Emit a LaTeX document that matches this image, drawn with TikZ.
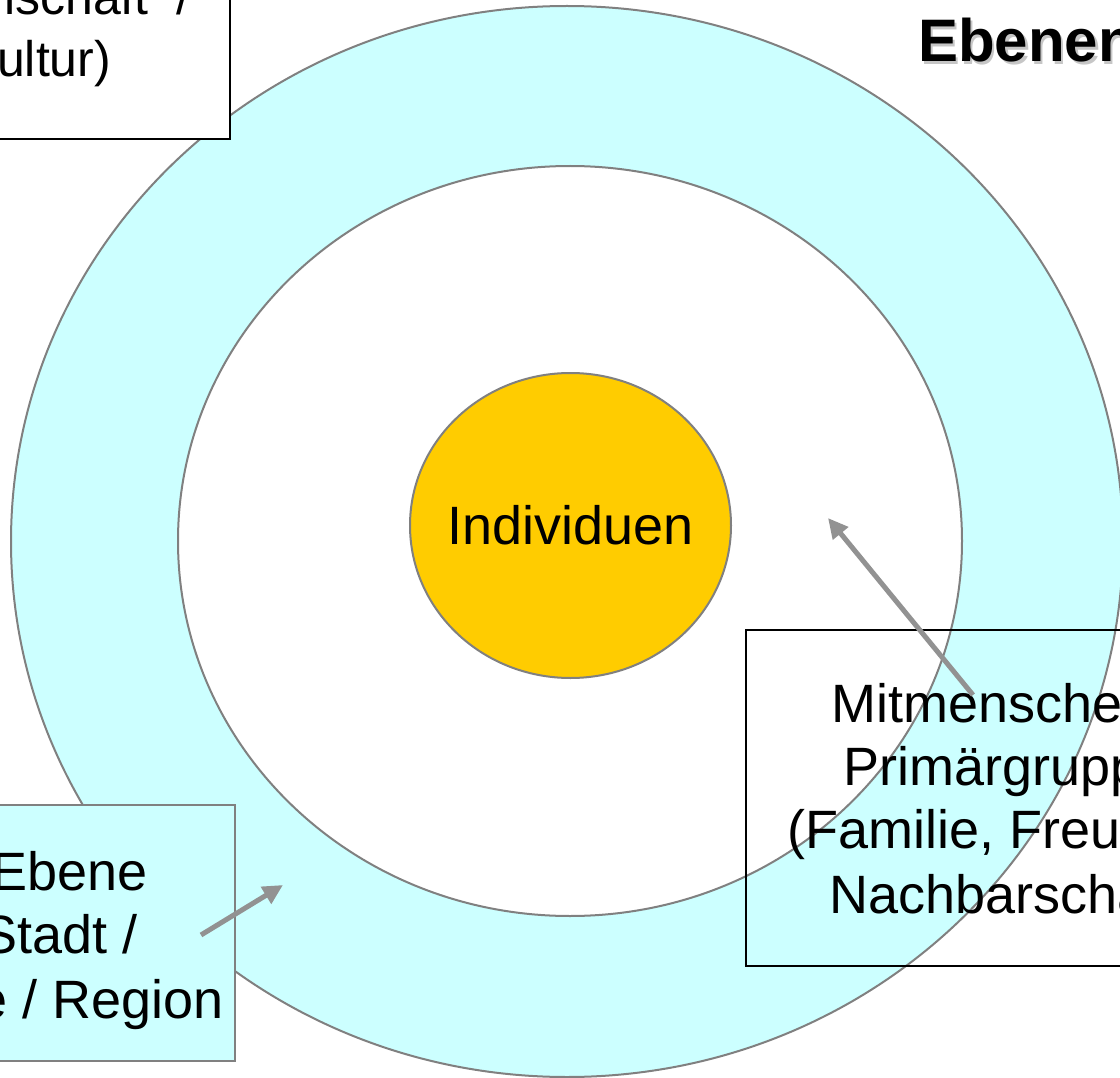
\documentclass[tikz,border=0pt]{standalone}
\usepackage{fontspec}
\setmainfont{Liberation Sans}
\usetikzlibrary{arrows.meta,shapes.geometric}

\definecolor{ringcyan}{HTML}{CCFFFF}
\definecolor{coregold}{HTML}{FFCC00}
\definecolor{ringline}{HTML}{808080}
\definecolor{pointergray}{HTML}{929292}

\tikzset{
  ring/.style={ellipse, draw=ringline, line width=2pt, inner sep=0pt},
  levelbox/.style={rectangle, line width=2pt, inner sep=0pt},
  linetext/.style={inner sep=0pt, anchor=base west, font=\fontsize{54}{64}\selectfont},
  pointer/.style={draw=pointergray, line width=5pt, -{Triangle[length=20pt,width=19pt]}},
}

\begin{document}
\begin{tikzpicture}[x=1pt,y=-1pt]
  \useasboundingbox (0,0) rectangle (1120,1078);
  \clip (0,0) rectangle (1120,1078);

  \node[ring, fill=ringcyan, minimum width=1112pt, minimum height=1071pt] (outer) at (567,541.5) {};
  \node[ring, fill=white, minimum width=784pt, minimum height=750pt] (inner) at (570,541) {};
  \node[ring, fill=coregold, minimum width=321pt, minimum height=305pt] (core) at (570.5,525.5) {};
  \node[inner sep=0pt, font=\fontsize{54}{64}\selectfont] (coretext) at (core.center) {Individuen};

  \node[anchor=base west, inner sep=0pt, text=gray!45,
        font=\fontsize{60}{72}\selectfont\bfseries] (titleshadow) at (920.5,64.5) {Ebenen};
  \node[anchor=base west, inner sep=0pt,
        font=\fontsize{60}{72}\selectfont\bfseries] (title) at (918,62) {Ebenen};

  \node[levelbox, draw=black, fill=white, minimum width=530pt, minimum height=239pt] (makro) at (-35,19.5) {};
  \node[levelbox, draw=ringline, fill=ringcyan, minimum width=485pt, minimum height=256pt] (meso) at (-7.5,933) {};
  \node[levelbox, draw=black, minimum width=514pt, minimum height=336pt] (mikro) at (1003,798) {};

  \foreach \x/\y/\t [count=\i] in {4/15/{lschaft\ \ /}, -3/77/{ultur)}}
    \node[linetext, font=\fontsize{50}{62}\selectfont] (makro\i) at (\x,\y) {\t};
  \foreach \x/\y/\t [count=\i] in {-9/890/{Ebene}, -19/953/{Stadt /}, -23/1018/{e / Region}}
    \node[linetext] (meso\i) at (\x,\y) {\t};
  \foreach \x/\y/\t [count=\i] in {831/722/{Mitmensche}, 843/785/{Primärgrupp},
                                    787/848/{(Familie, Freun}, 829/913/{Nachbarscha}}
    \node[linetext] (mikro\i) at (\x,\y) {\t};

  \coordinate (mikrotail) at (973,695);
  \coordinate (mikrotip) at (828,518);
  \coordinate (mesotail) at (201,935);
  \coordinate (mesotip) at (283,885);
  \draw[pointer] (mikrotail) -- (mikrotip);
  \draw[pointer] (mesotail) -- (mesotip);
\end{tikzpicture}
\end{document}
